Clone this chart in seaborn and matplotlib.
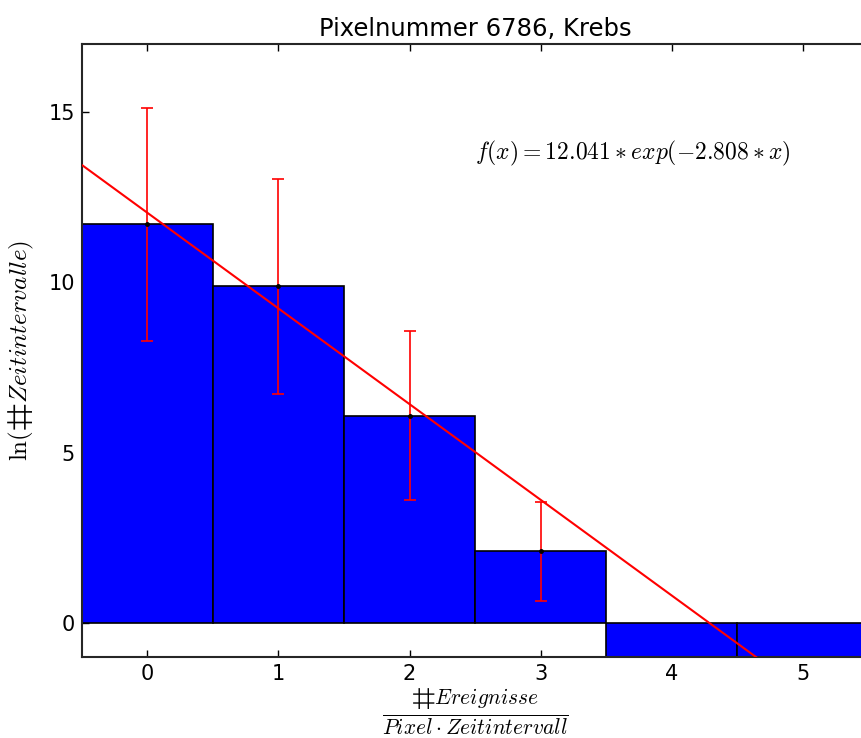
import numpy as np
import pandas as pd
import matplotlib
matplotlib.use("Agg")
import matplotlib.pyplot as plt
import seaborn as sns

# ln of the number of time intervals per event count
events = [0, 1, 2, 3, 4, 5]
ln_counts = [11.7, 9.88, 6.08, 2.1, -1.0, -1.0]
err_x = [0, 1, 2, 3]
err_y = [11.7, 9.88, 6.08, 2.1]
err_size = [3.42, 3.15, 2.48, 1.45]

# fitted line parameters
fit_a = 12.041
fit_b = 2.808

sns.set_style("ticks")
plt.rcParams["mathtext.fontset"] = "cm"
plt.rcParams["font.family"] = ["DejaVu Sans"]
plt.rcParams["text.color"] = "black"
plt.rcParams["axes.labelcolor"] = "black"
plt.rcParams["xtick.color"] = "black"
plt.rcParams["ytick.color"] = "black"

fig = plt.figure(figsize=(8.61, 7.38), dpi=100)
ax = fig.add_axes([0.0952, 0.1098, 0.913, 0.8306])

df = pd.DataFrame({"x": events, "y": ln_counts})
sns.barplot(data=df, x="x", y="y", ax=ax, color="blue", saturation=1,
            width=1.0, edgecolor="black", linewidth=1.2, errorbar=None,
            order=events)

ax.errorbar(err_x, err_y, yerr=err_size, fmt="k.", ecolor="red",
            elinewidth=1.2, capsize=4, capthick=1.2, markersize=5, zorder=3)

xs = np.array([-0.5, 5.5])
ax.plot(xs, fit_a - fit_b * xs, color="red", linewidth=1.5, zorder=4)

ax.text(2.5, 13.8, r"$f(x) = 12.041 * exp(-2.808 * x)$", fontsize=17,
        va="center", ha="left")

ax.set_xlim(-0.5, 5.5)
ax.set_ylim(-1, 17)
ax.set_yticks([0, 5, 10, 15])
ax.set_xticks(events)
ax.set_xticklabels([str(e) for e in events])
ax.tick_params(direction="in", top=True, right=True, labelsize=15,
               length=5, width=1, pad=5)
for s in ax.spines.values():
    s.set_linewidth(1.5)

# mathtext has no plain '#', so the number sign is set as a unicode glyph
num_sign = "\u2317"
ax.set_title("Pixelnummer 6786, Krebs", fontsize=17.5, pad=6)
ax.set_xlabel(r"$\frac{" + num_sign + r"Ereignisse}{Pixel\cdot Zeitintervall}$",
              fontsize=22, labelpad=2)
ax.set_ylabel(r"$\ln(" + num_sign + r"Zeitintervalle)$", fontsize=18,
              labelpad=9)

fig.savefig("out.png", dpi=100)
